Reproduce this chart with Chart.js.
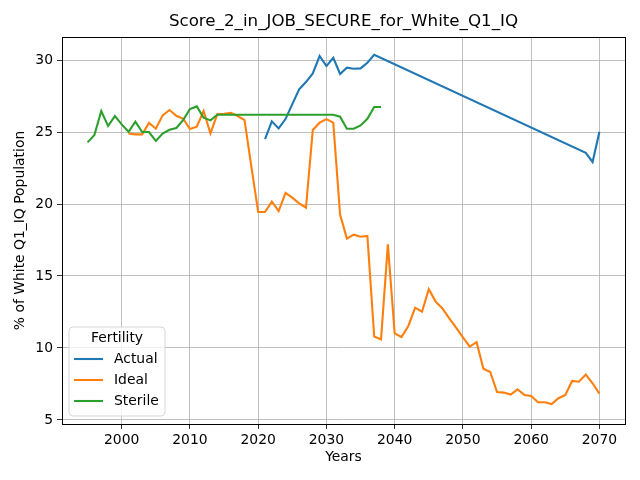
<!DOCTYPE html>
<html>
<head>
<meta charset="utf-8">
<script src="https://cdn.jsdelivr.net/npm/chart.js@4/dist/chart.umd.min.js"></script>
<style>
  html, body { margin: 0; padding: 0; background: #fff; }
  canvas { display: block; }
</style>
</head>
<body>
<canvas id="chart" width="640" height="480"></canvas>
<script>
const titleText = 'Score_2_in_JOB_SECURE_for_White_Q1_IQ';
const xLabel = 'Years';
const yLabel = '% of White Q1_IQ Population';
const legendTitle = 'Fertility';

const years = [
    1995, 1996, 1997, 1998, 1999, 2000, 2001, 2002, 2003, 2004,
    2005, 2006, 2007, 2008, 2009, 2010, 2011, 2012, 2013, 2014,
    2015, 2016, 2017, 2018, 2019, 2020, 2021, 2022, 2023, 2024,
    2025, 2026, 2027, 2028, 2029, 2030, 2031, 2032, 2033, 2034,
    2035, 2036, 2037, 2038, 2039, 2040, 2041, 2042, 2043, 2044,
    2045, 2046, 2047, 2048, 2049, 2050, 2051, 2052, 2053, 2054,
    2055, 2056, 2057, 2058, 2059, 2060, 2061, 2062, 2063, 2064,
    2065, 2066, 2067, 2068, 2069, 2070
];

// values aligned with years, null = no value
const actual = [
    null, null, null, null, null, null, null, null, null, null,
    null, null, null, null, null, null, null, null, null, null,
    null, null, null, null, null, null, 24.51, 25.74, 25.25, 25.90,
    26.94, 27.97, 28.47, 29.07, 30.28, 29.58, 30.16, 29.03, 29.47, 29.40,
    29.42, 29.81, 30.37, null, null, null, null, null, null, null,
    null, null, null, null, null, null, null, null, null, null,
    null, null, null, null, null, null, null, null, null, null,
    null, null, null, 23.56, 22.92, 25.02
];

const ideal = [
    null, null, null, null, null, null, 24.90, 24.84, 24.84, 25.63,
    25.23, 26.16, 26.53, 26.13, 25.92, 25.21, 25.37, 26.46, 24.90, 26.23,
    26.27, 26.34, 26.11, 25.83, 22.60, 19.44, 19.44, 20.16, 19.51, 20.78,
    20.44, 20.05, 19.74, 25.14, 25.65, 25.90, 25.65, 19.26, 17.60, 17.87,
    17.73, 17.78, 10.80, 10.60, 17.20, 11.02, 10.76, 11.53, 12.80, 12.52,
    14.08, 13.22, 12.75, 12.06, 11.41, 10.74, 10.09, 10.40, 8.56, 8.33,
    6.94, 6.90, 6.76, 7.13, 6.74, 6.67, 6.23, 6.23, 6.11, 6.51,
    6.74, 7.71, 7.66, 8.15, 7.55, 6.83
];

const sterile = [
    24.28, 24.79, 26.46, 25.42, 26.11, 25.53, 25.02, 25.72, 25.00, 25.00,
    24.38, 24.90, 25.16, 25.28, 25.83, 26.60, 26.78, 25.99, 25.81, 26.20,
    26.20, 26.20, 26.20, 26.20, 26.20, 26.20, 26.20, 26.20, 26.20, 26.20,
    26.20, 26.20, 26.20, 26.20, 26.20, 26.20, 26.20, 26.06, 25.23, 25.23,
    25.46, 25.92, 26.74, 26.74, null, null, null, null, null, null,
    null, null, null, null, null, null, null, null, null, null,
    null, null, null, null, null, null, null, null, null, null,
    null, null, null, null, null, null
];

const xTicks = [2000, 2010, 2020, 2030, 2040, 2050, 2060, 2070];
const yTicks = [5, 10, 15, 20, 25, 30];

const seriesNames = ['Actual', 'Ideal', 'Sterile'];
const seriesColors = ['#1f77b4', '#ff7f0e', '#2ca02c'];

const FONT = 'DejaVu Sans';

function points(values) {
    const out = [];
    years.forEach((y, i) => { if (values[i] !== null) out.push({ x: y, y: values[i] }); });
    return out;
}

// frame, title and legend drawn matplotlib-style
const decor = {
    id: 'decor',
    afterDraw(chart) {
        const ctx = chart.ctx;
        const a = chart.chartArea;
        ctx.save();
        ctx.strokeStyle = '#000';
        ctx.lineWidth = 1;
        ctx.strokeRect(Math.round(a.left) + 0.5, Math.round(a.top) + 0.5,
            Math.round(a.right - a.left), Math.round(a.bottom - a.top));

        ctx.fillStyle = '#000';
        ctx.font = '16.7px "' + FONT + '"';
        ctx.textAlign = 'center';
        ctx.textBaseline = 'middle';
        ctx.fillText(titleText, (a.left + a.right) / 2, 22);

        // legend box
        const bx = 69, by = 327, bw = 96, bh = 89, r = 4;
        ctx.beginPath();
        ctx.moveTo(bx + r, by);
        ctx.arcTo(bx + bw, by, bx + bw, by + bh, r);
        ctx.arcTo(bx + bw, by + bh, bx, by + bh, r);
        ctx.arcTo(bx, by + bh, bx, by, r);
        ctx.arcTo(bx, by, bx + bw, by, r);
        ctx.closePath();
        ctx.fillStyle = 'rgba(255,255,255,0.8)';
        ctx.fill();
        ctx.strokeStyle = '#d6d6d6';
        ctx.stroke();

        ctx.font = '13.9px "' + FONT + '"';
        ctx.fillStyle = '#000';
        ctx.textAlign = 'center';
        ctx.fillText(legendTitle, bx + bw / 2, 338);
        ctx.textAlign = 'left';
        seriesNames.forEach((name, i) => {
            const yy = 359 + i * 21;
            ctx.strokeStyle = seriesColors[i];
            ctx.lineWidth = 2.1;
            ctx.beginPath();
            ctx.moveTo(74, yy);
            ctx.lineTo(103, yy);
            ctx.stroke();
            ctx.fillText(name, 114, yy);
        });
        ctx.restore();
    }
};

new Chart(document.getElementById('chart'), {
    type: 'line',
    data: {
        datasets: [actual, ideal, sterile].map((vals, i) => ({
            label: seriesNames[i],
            data: points(vals),
            borderColor: seriesColors[i],
            backgroundColor: seriesColors[i],
            borderWidth: 2.1,
            pointRadius: 0,
            tension: 0,
            fill: false,
            order: 3 - i   // later series drawn on top, like matplotlib
        }))
    },
    options: {
        responsive: false,
        animation: false,
        spanGaps: true,
        layout: { padding: { top: 37, right: 15, left: 0, bottom: 0 } },
        plugins: {
            legend: { display: false },
            title: { display: false },
            tooltip: { enabled: false }
        },
        scales: {
            x: {
                type: 'linear',
                min: 1991.25,
                max: 2073.75,
                afterBuildTicks: s => { s.ticks = xTicks.map(v => ({ value: v })); },
                afterFit: s => { s.height = 56; },
                grid: { color: '#b0b0b0', lineWidth: 0.8, tickColor: '#000', tickLength: 5, drawOnChartArea: true },
                border: { display: false },
                ticks: { color: '#000', font: { family: FONT, size: 13.9 }, padding: 3, maxRotation: 0, callback: v => String(v) },
                title: { display: true, text: xLabel, color: '#000', font: { family: FONT, size: 13.9 }, padding: { top: 4, bottom: 14 } }
            },
            y: {
                min: 4.72,
                max: 31.6,
                afterBuildTicks: s => { s.ticks = yTicks.map(v => ({ value: v })); },
                afterFit: s => { s.width = 62; },
                grid: { color: '#b0b0b0', lineWidth: 0.8, tickColor: '#000', tickLength: 5 },
                border: { display: false },
                ticks: { color: '#000', font: { family: FONT, size: 13.9 }, padding: 4, callback: v => String(v) },
                title: { display: true, text: yLabel, color: '#000', font: { family: FONT, size: 13.9 }, padding: { top: 12, bottom: 4 } }
            }
        }
    },
    plugins: [decor]
});
</script>
</body>
</html>
